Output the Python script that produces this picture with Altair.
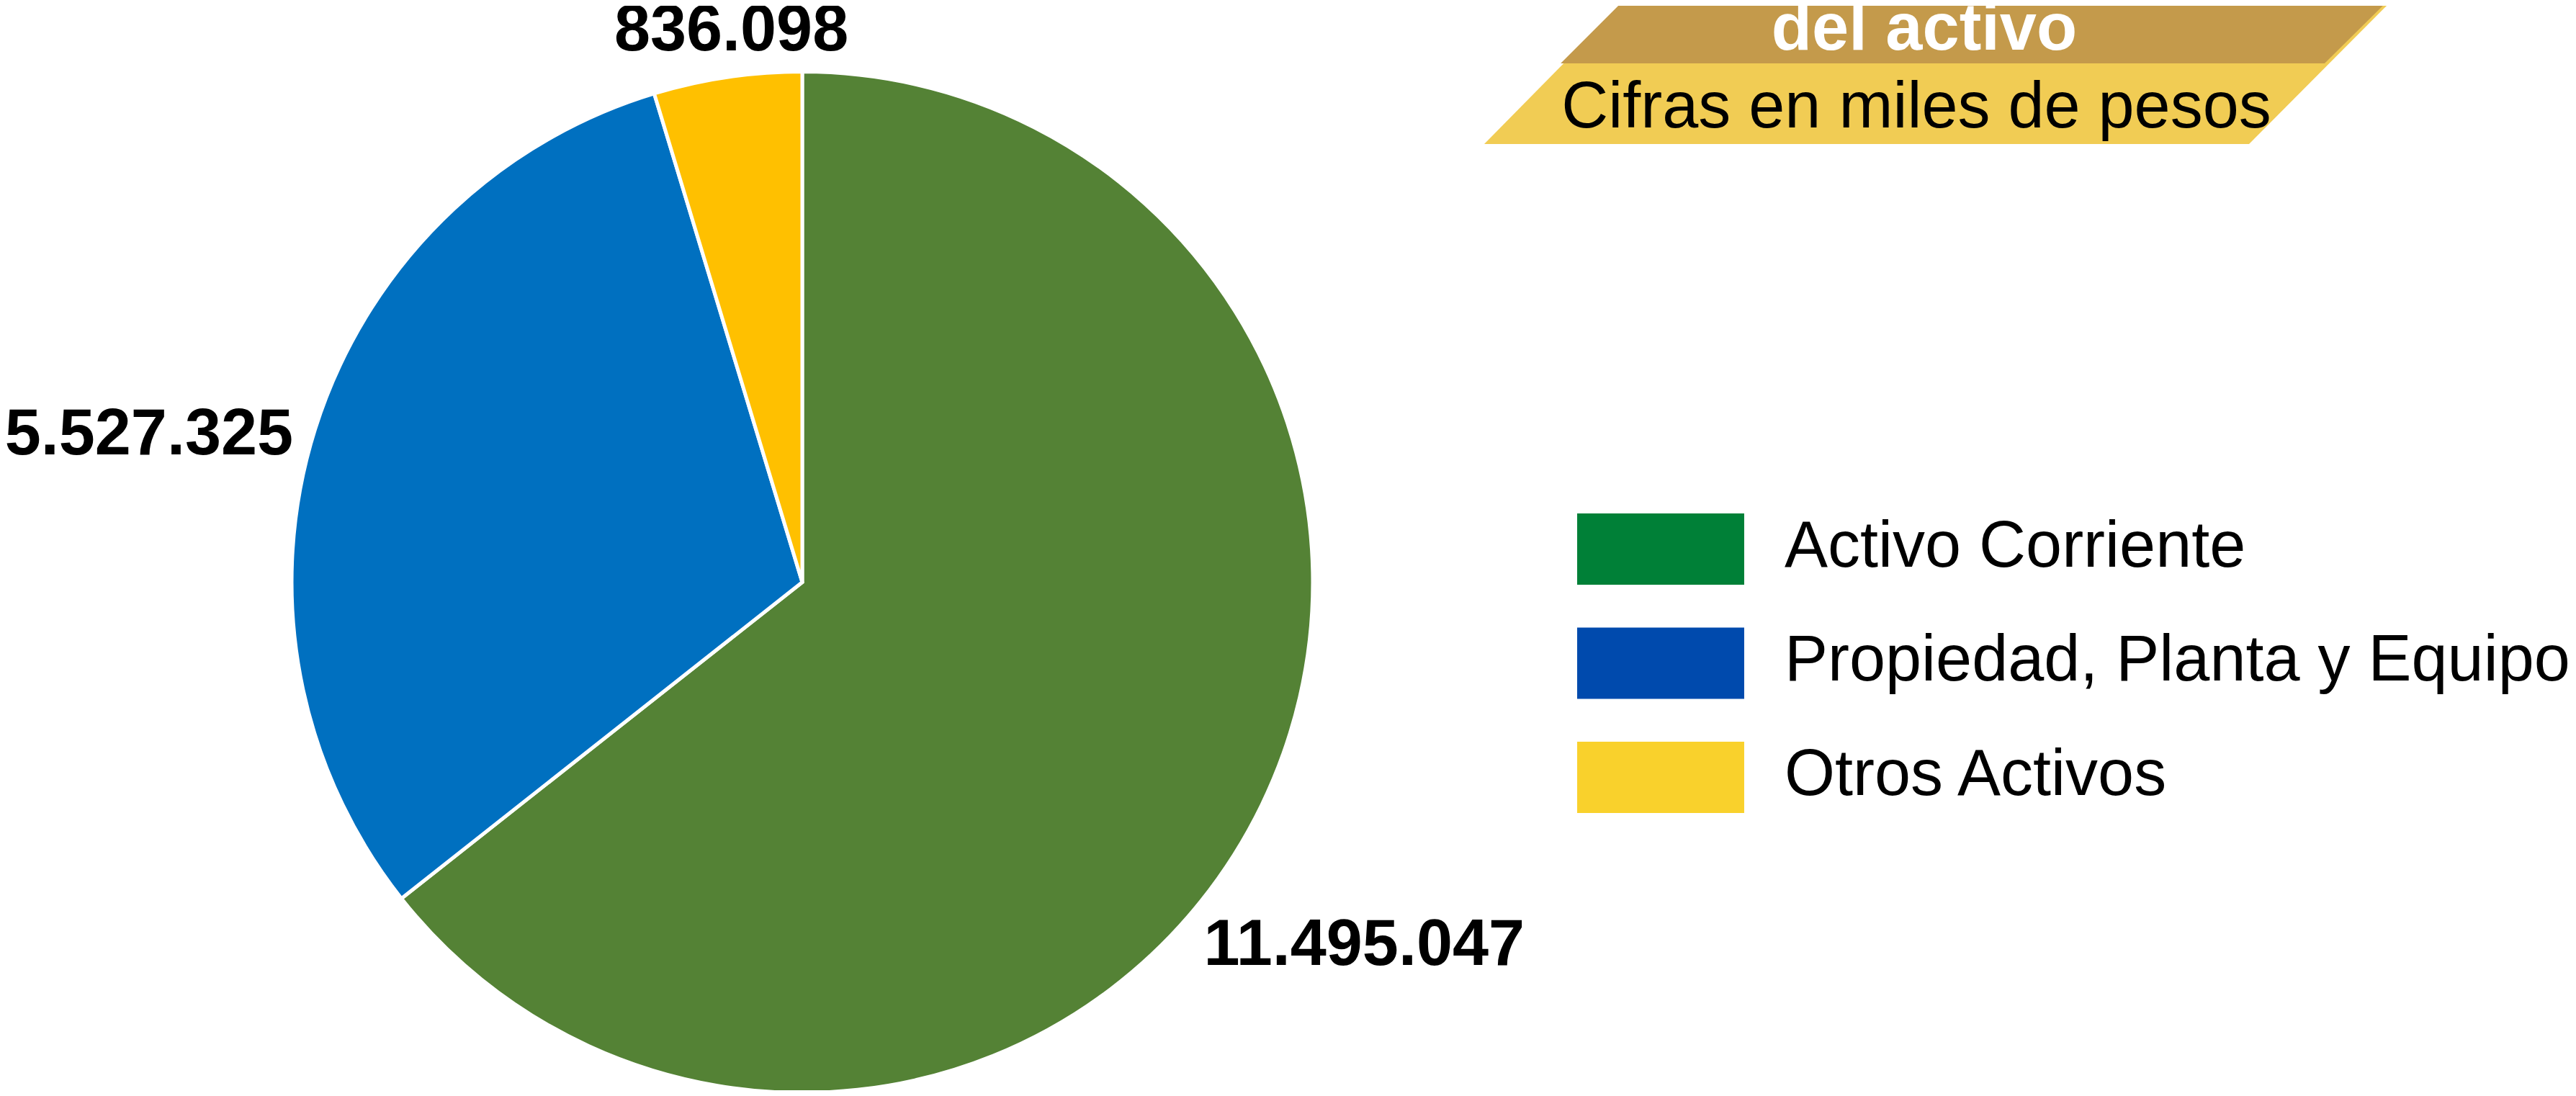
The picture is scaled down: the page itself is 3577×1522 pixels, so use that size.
import altair as alt
import pandas as pd

# ---- data ----
categories = ["Activo Corriente", "Propiedad, Planta y Equipo", "Otros Activos"]
values = [11495047, 5527325, 836098]
slice_colors = ["#548235", "#0070C0", "#FFC000"]
legend_colors = ["#008037", "#004AAD", "#F9D12C"]
banner_title = ["del activo"]
banner_subtitle = ["Cifras en miles de pesos"]

df = pd.DataFrame({
    "cat": categories,
    "value": values,
    "idx": list(range(len(categories))),
    "label": [f"{v:,}".replace(",", ".") for v in values],
})

FONT = "Liberation Sans"
CX, CY, R = 1106, 800.5, 709

base = alt.Chart(df)

pie = base.mark_arc(outerRadius=R, stroke="white", strokeWidth=5).encode(
    theta=alt.Theta("value:Q", stack=True),
    order=alt.Order("idx:Q"),
    color=alt.Color("cat:N", scale=alt.Scale(domain=categories, range=slice_colors), legend=None),
    x=alt.value(CX),
    y=alt.value(CY),
)

# label placement style: radius and angular nudge (degrees)
label_style = {
    "Activo Corriente": (929, 7.0),
    "Propiedad, Planta y Equipo": (930, -4.7),
    "Otros Activos": (772, 1.1),
}

lab_base = (
    base.transform_window(cum="sum(value)", sort=[alt.SortField("idx")], frame=[None, 0])
    .transform_joinaggregate(total="sum(value)")
    .transform_calculate(mid="2*PI*(datum.cum - datum.value/2)/datum.total")
)

label_layers = []
for cat, (rad, off) in label_style.items():
    label_layers.append(
        lab_base.transform_filter(alt.datum.cat == cat)
        .transform_calculate(t=f"datum.mid + {off}*PI/180")
        .mark_text(radius=rad, font=FONT, fontSize=90, fontWeight="bold",
                   color="black", align="center", baseline="middle")
        .encode(
            theta=alt.Theta("t:Q", scale=None, stack=None),
            text="label:N",
            x=alt.value(CX),
            y=alt.value(CY),
        )
    )

# ---- legend (drawn manually: legend swatch colours differ from slices) ----
leg_df = pd.DataFrame({"cat": categories, "col": legend_colors})
yscale = alt.Scale(type="point", domain=categories, range=[754.5, 1071.5], padding=0)
swatch = alt.Chart(leg_df).mark_point(
    shape="M-2.343,-1L2.343,-1L2.343,1L-2.343,1Z", size=9801,
    filled=True, opacity=1, strokeWidth=0,
).encode(
    x=alt.value(2298),
    y=alt.Y("cat:N", scale=yscale, axis=None),
    fill=alt.Fill("col:N", scale=None),
)
leg_text = alt.Chart(leg_df).mark_text(
    font=FONT, fontSize=90, align="left", baseline="alphabetic", dy=24, color="black",
).encode(
    x=alt.value(2470),
    y=alt.Y("cat:N", scale=yscale, axis=None),
    text="cat:N",
)

# ---- banner ----
one = alt.Chart(pd.DataFrame({"k": [0]}))
band_low = one.mark_point(
    shape="M-4.33,-1L6.31,-1L4.32,1L-6.30,1Z", size=40000,
    filled=True, opacity=1, strokeWidth=0, color="#F1CC54",
).encode(x=alt.value(2683), y=alt.value(92))
band_top = one.mark_point(
    shape="M-11.06,-1L13.07,-1L11.05,1L-13.06,1Z", size=7744,
    filled=True, opacity=1, strokeWidth=0, color="#C49A4B",
).encode(x=alt.value(2733.75), y=alt.value(36))

title_txt = alt.Chart(pd.DataFrame({"t": banner_title})).mark_text(
    font=FONT, fontSize=92, fontWeight="bold", color="white",
    align="center", baseline="alphabetic",
).encode(text="t:N", x=alt.value(2664), y=alt.value(61))

sub_txt = alt.Chart(pd.DataFrame({"t": banner_subtitle})).mark_text(
    font=FONT, fontSize=90, color="black",
    align="center", baseline="alphabetic",
).encode(text="t:N", x=alt.value(2653), y=alt.value(169))

chart = alt.layer(
    band_low, band_top, title_txt, sub_txt, pie, *label_layers, swatch, leg_text
).properties(
    width=3561, height=1506, padding=0,
    autosize=alt.AutoSizeParams(type="none"),
).configure_view(stroke=None)

chart.save("out.html", embed_options={"renderer": "svg", "actions": False})
